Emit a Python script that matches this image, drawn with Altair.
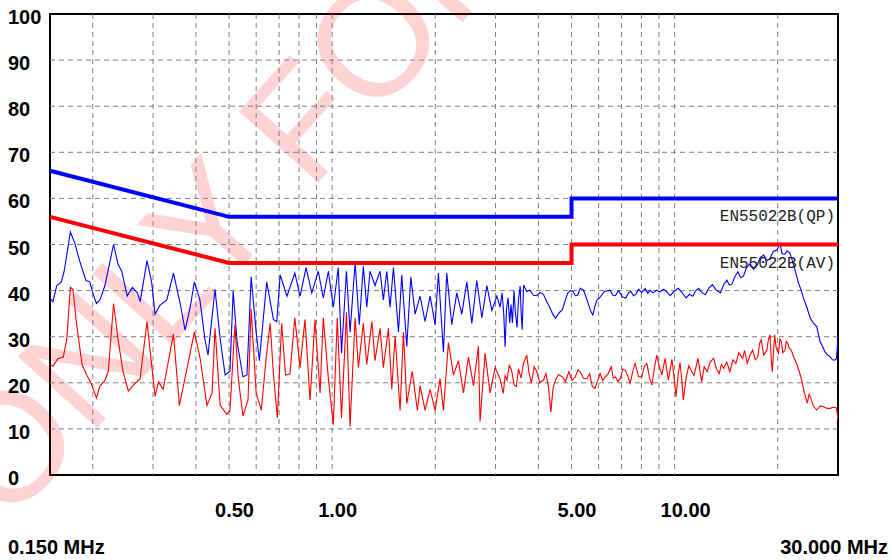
import altair as alt
import pandas as pd

# ---------------- data ----------------
blue_f = [0.150, 0.153, 0.157, 0.162, 0.165, 0.172, 0.177, 0.183, 0.191, 0.196,
          0.200, 0.205, 0.210, 0.217, 0.230, 0.237, 0.243, 0.252, 0.261, 0.270,
          0.275, 0.288, 0.297, 0.304, 0.314, 0.329, 0.344, 0.360, 0.372, 0.385,
          0.396, 0.411, 0.425, 0.434, 0.455, 0.471, 0.487, 0.503, 0.514, 0.528,
          0.549, 0.564, 0.580, 0.600, 0.613, 0.644, 0.674, 0.689, 0.705, 0.738,
          0.778, 0.806, 0.839, 0.872, 0.911, 0.942, 0.975, 1.008, 1.042, 1.065,
          1.101, 1.128, 1.167, 1.200, 1.233, 1.262, 1.290, 1.334, 1.380, 1.411,
          1.444, 1.476, 1.510, 1.562, 1.597, 1.652, 1.697, 1.747, 1.806, 1.868,
          1.932, 1.998, 2.043, 2.113, 2.161, 2.235, 2.312, 2.391, 2.473, 2.558,
          2.645, 2.736, 2.830, 2.927, 3.027, 3.093, 3.135, 3.170, 3.199, 3.230,
          3.264, 3.300, 3.330, 3.360, 3.398, 3.430, 3.467, 3.500, 3.540, 3.565,
          3.588, 3.624, 3.70, 3.78, 3.87, 3.96, 4.05, 4.14, 4.22, 4.31,
          4.40, 4.49, 4.60, 4.70, 4.78, 4.87, 4.95, 5.05, 5.13, 5.21,
          5.30, 5.42, 5.52, 5.61, 5.69, 5.77, 5.85, 5.93, 6.06, 6.24,
          6.48, 6.60, 6.72, 6.85, 6.94, 7.05, 7.20, 7.33, 7.46, 7.58,
          7.70, 7.85, 8.00, 8.20, 8.35, 8.48, 8.65, 8.87, 9.05, 9.28,
          9.45, 9.70, 9.95, 10.25, 10.5, 10.8, 11.05, 11.3, 11.5, 11.75,
          12.0, 12.3, 12.6, 12.9, 13.2, 13.6, 13.9, 14.2, 14.45, 14.7,
          15.0, 15.3, 15.6, 15.9, 16.2, 16.6, 17.0, 17.4, 17.8, 18.2,
          18.6, 19.0, 19.4, 19.9, 20.3, 20.6, 20.99, 21.3, 21.7, 22.2,
          22.6, 23.0, 23.4, 23.8, 24.3, 24.9, 25.4, 26.0, 26.6, 27.0,
          27.5, 28.0, 28.4, 28.9, 29.4, 29.7, 29.85, 30.0]
blue_db = [38.4, 37.6, 41.1, 41.9, 44.2, 52.7, 50.4, 46.5, 42.2, 41.9,
           39.5, 37.2, 38.0, 41.1, 50.0, 45.7, 44.2, 38.8, 40.7, 39.5,
           37.6, 46.5, 41.9, 34.9, 36.8, 38.0, 43.8, 37.2, 31.4, 36.4,
           41.9, 38.0, 29.5, 26.0, 40.3, 29.5, 21.7, 22.5, 39.9, 28.7,
           21.3, 21.7, 43.0, 31.0, 24.8, 41.9, 33.7, 33.3, 43.4, 38.8,
           43.8, 38.8, 45.0, 39.5, 44.2, 38.4, 44.2, 36.4, 45.0, 26.4,
           44.2, 31.0, 46.1, 32.6, 45.3, 36.4, 44.2, 41.1, 44.2, 38.0,
           44.2, 36.4, 45.0, 31.0, 43.4, 27.9, 43.0, 34.9, 38.8, 33.3,
           38.8, 32.6, 43.8, 26.7, 43.8, 32.6, 39.5, 34.9, 41.9, 32.9,
           42.2, 34.1, 41.1, 35.7, 38.8, 36.4, 39.5, 35.0, 27.8, 36.0,
           38.5, 33.0, 37.0, 33.0, 40.0, 35.0, 32.0, 38.0, 41.0, 35.0,
           31.5, 41.2, 39.8, 40.1, 39.0, 38.9, 39.6, 39.2, 37.8, 36.5,
           35.0, 34.0, 35.2, 35.8, 37.6, 39.4, 40.0, 39.8, 38.9, 39.0,
           40.5, 40.1, 38.5, 36.9, 35.5, 34.7, 36.5, 37.9, 38.6, 39.8,
           40.1, 39.0, 38.9, 40.0, 39.4, 38.6, 38.4, 39.5, 39.8, 38.9,
           39.2, 40.3, 39.6, 40.4, 39.4, 40.1, 39.5, 40.1, 39.7, 40.3,
           39.9, 38.9, 39.8, 40.5, 39.6, 38.4, 39.2, 38.8, 39.9, 40.5,
           39.6, 39.1, 40.6, 41.3, 40.2, 39.5, 41.2, 42.3, 41.2, 41.4,
           43.0, 44.1, 42.8, 43.2, 44.9, 45.9, 44.6, 45.4, 47.2, 47.7,
           46.5, 47.0, 48.5, 48.8, 50.2, 48.0, 47.9, 48.6, 48.2, 45.9,
           43.8, 41.6, 40.2, 38.3, 36.5, 34.0, 33.0, 32.2, 28.9, 28.0,
           26.7, 26.0, 25.7, 25.0, 24.9, 25.3, 27.5, 30.0]

red_f = [0.150, 0.153, 0.158, 0.164, 0.168, 0.172, 0.175, 0.179, 0.186, 0.192,
         0.198, 0.205, 0.210, 0.217, 0.222, 0.230, 0.237, 0.245, 0.254, 0.262,
         0.275, 0.288, 0.297, 0.304, 0.311, 0.321, 0.344, 0.352, 0.358, 0.368,
         0.396, 0.411, 0.431, 0.446, 0.455, 0.471, 0.492, 0.503, 0.520, 0.532,
         0.549, 0.568, 0.580, 0.600, 0.621, 0.642, 0.659, 0.674, 0.692, 0.712,
         0.731, 0.753, 0.778, 0.806, 0.833, 0.862, 0.891, 0.922, 0.942, 0.975,
         1.008, 1.035, 1.065, 1.101, 1.128, 1.167, 1.193, 1.233, 1.262, 1.306,
         1.334, 1.380, 1.411, 1.460, 1.493, 1.527, 1.579, 1.615, 1.652, 1.713,
         1.774, 1.806, 1.868, 1.932, 1.998, 2.066, 2.113, 2.185, 2.260, 2.338,
         2.418, 2.500, 2.586, 2.674, 2.703, 2.796, 2.892, 2.991, 3.093, 3.16,
         3.20, 3.24, 3.29, 3.34, 3.40, 3.45, 3.50, 3.56, 3.62, 3.70,
         3.76, 3.82, 3.89, 3.96, 4.04, 4.14, 4.21, 4.28, 4.35, 4.42,
         4.49, 4.58, 4.70, 4.80, 4.91, 5.02, 5.13, 5.22, 5.30, 5.42,
         5.55, 5.65, 5.75, 5.85, 5.97, 6.06, 6.17, 6.27, 6.40, 6.53,
         6.62, 6.72, 6.83, 6.95, 7.06, 7.18, 7.30, 7.41, 7.55, 7.67,
         7.85, 8.02, 8.15, 8.30, 8.45, 8.58, 8.72, 8.87, 9.02, 9.18,
         9.38, 9.59, 9.82, 9.95, 10.1, 10.25, 10.37, 10.5, 10.6, 10.8,
         11.0, 11.2, 11.4, 11.7, 12.0, 12.2, 12.45, 12.7, 13.0, 13.25,
         13.5, 13.7, 13.9, 14.2, 14.5, 14.8, 15.1, 15.4, 15.8, 16.0,
         16.3, 16.6, 16.9, 17.2, 17.5, 17.7, 17.9, 18.2, 18.6, 18.8,
         19.0, 19.15, 19.3, 19.45, 19.6, 19.8, 20.1, 20.3, 20.5, 20.7,
         21.0, 21.2, 21.4, 21.6, 21.9, 22.3, 22.7, 23.1, 23.5, 23.9,
         24.4, 24.7, 24.9, 25.4, 26.0, 26.6, 27.2, 27.8, 28.4, 29.0,
         29.7, 30.0]
red_db = [24.0, 23.6, 25.2, 25.6, 29.5, 40.7, 40.3, 33.3, 24.0, 21.7,
          19.8, 16.7, 19.4, 20.5, 22.5, 37.2, 29.5, 22.5, 18.2, 19.4,
          20.9, 33.3, 24.0, 17.1, 20.2, 18.6, 30.6, 21.7, 15.1, 19.4,
          31.0, 25.6, 15.1, 17.8, 31.8, 15.1, 13.2, 13.9, 32.6, 20.9,
          12.8, 16.3, 36.0, 17.8, 14.0, 25.6, 32.9, 21.7, 12.4, 32.9,
          21.7, 21.9, 34.1, 23.3, 33.7, 16.3, 33.7, 17.8, 34.1, 20.9,
          10.9, 34.1, 12.4, 35.3, 10.5, 34.1, 23.3, 32.9, 24.0, 33.3,
          24.8, 31.8, 23.3, 31.8, 18.6, 30.2, 14.0, 31.0, 15.5, 22.5,
          14.0, 19.4, 14.0, 18.6, 14.0, 20.9, 14.0, 28.7, 21.7, 24.8,
          17.8, 25.6, 19.4, 27.9, 11.6, 26.4, 17.8, 23.3, 20.9, 17.7,
          21.5, 20.6, 23.8, 22.8, 19.5, 19.2, 23.0, 21.0, 24.2, 26.0,
          22.0, 19.9, 23.5, 22.4, 20.0, 20.6, 22.0, 19.2, 13.7, 19.0,
          20.6, 21.8, 21.3, 20.2, 22.4, 20.5, 21.3, 22.8, 22.4, 21.0,
          20.9, 22.0, 19.2, 18.8, 20.6, 22.0, 20.5, 21.3, 22.0, 23.5,
          21.0, 21.3, 20.3, 21.0, 23.0, 22.7, 21.5, 19.9, 22.5, 24.2,
          21.3, 21.3, 23.5, 24.2, 21.0, 19.5, 23.0, 26.0, 23.5, 21.7,
          25.3, 20.6, 25.1, 21.5, 17.0, 22.0, 24.4, 20.5, 16.3, 21.0,
          23.7, 22.5, 21.6, 25.3, 20.2, 23.5, 22.4, 24.5, 25.3, 23.0,
          22.0, 24.0, 23.1, 24.5, 22.4, 25.0, 24.2, 26.5, 25.3, 27.0,
          24.2, 26.0, 27.1, 25.0, 25.6, 28.5, 29.3, 26.0, 27.1, 29.5,
          30.4, 25.0, 22.4, 27.0, 30.4, 27.5, 26.4, 29.5, 28.9, 26.5,
          27.1, 29.0, 28.6, 27.5, 27.1, 25.5, 24.2, 22.5, 20.6, 18.0,
          15.6, 17.5, 17.0, 15.0, 14.1, 15.0, 14.8, 14.5, 14.4, 14.7,
          14.6, 11.9]

limit_f = [0.15, 0.5, 5.0, 5.0, 30.0]
qp_limit_db = [66, 56, 56, 60, 60]
av_limit_db = [56, 46, 46, 50, 50]
limit_names = ["EN55022B(QP)", "EN55022B(AV)"]
limit_label_db = [55, 45]

y_ticks = list(range(0, 101, 10))
x_grid = [0.2, 0.3, 0.4, 0.5, 0.6, 0.7, 0.8, 0.9, 1, 2, 3, 4, 5, 6, 7, 8, 9, 10, 20]
x_label_vals = [0.5, 1, 5, 10]
x_label_txt = ["0.50", "1.00", "5.00", "10.00"]
corner_f = [0.15, 30.0]
corner_txt = ["0.150 MHz", "30.000 MHz"]
watermark = "ONLY FOR REFERENCE"

# ---------------- tables ----------------
trace_df = pd.DataFrame({
    "f": blue_f + red_f,
    "db": blue_db + red_db,
    "s": ["QP"] * len(blue_f) + ["AV"] * len(red_f),
    "i": list(range(len(blue_f))) + list(range(len(red_f))),
})
lim_df = pd.DataFrame({
    "f": limit_f + limit_f,
    "db": qp_limit_db + av_limit_db,
    "s": ["QP"] * len(limit_f) + ["AV"] * len(limit_f),
    "i": list(range(len(limit_f))) * 2,
})
lab_df = pd.DataFrame({"f": [30.0, 30.0], "db": limit_label_db, "t": limit_names})
xlab_df = pd.DataFrame({"f": x_label_vals, "t": x_label_txt})
ylab_df = pd.DataFrame({"db": y_ticks, "t": [str(v) for v in y_ticks]})
xgrid_df = pd.DataFrame({"f": x_grid})
ygrid_df = pd.DataFrame({"db": y_ticks[1:-1]})
wm_df = pd.DataFrame({"t": [watermark]})

LBL = "Liberation Sans, Arial, sans-serif"
LBL_SIZE = 20

xscale = alt.Scale(type="log", domain=[0.15, 30], nice=False)
yscale = alt.Scale(domain=[0, 100], nice=False)
cscale = alt.Scale(domain=["QP", "AV"], range=["#0000ff", "#ff0000"])

X = lambda: alt.X("f:Q", scale=xscale, axis=None)
Y = lambda: alt.Y("db:Q", scale=yscale, axis=None)

wm = alt.Chart(wm_df).mark_text(
    angle=312, align="left", baseline="alphabetic", fontSize=155,
    font="Liberation Sans", color="#ff0000", opacity=0.17
).encode(x=alt.value(-42), y=alt.value(513), text="t:N")

xgrid = alt.Chart(xgrid_df).mark_rule(
    color="#7f7f7f", strokeWidth=1, strokeDash=[5, 4]
).encode(x=X(), y=alt.value(0), y2=alt.value(461))

ygrid = alt.Chart(ygrid_df).mark_rule(
    color="#7f7f7f", strokeWidth=1, strokeDash=[5, 4]
).encode(y=Y(), x=alt.value(0), x2=alt.value(788))

traces = alt.Chart(trace_df).mark_line(strokeWidth=1.1, clip=True).encode(
    x=X(), y=Y(),
    color=alt.Color("s:N", scale=cscale, legend=None),
    detail="s:N",
    order="i:Q",
)

limits = alt.Chart(lim_df).mark_line(strokeWidth=4).encode(
    x=X(), y=Y(),
    color=alt.Color("s:N", scale=cscale, legend=None),
    detail="s:N",
    order="i:Q",
)

labels = alt.Chart(lab_df).mark_text(
    align="right", baseline="alphabetic", dx=-3, font="Liberation Mono",
    fontSize=16, color="#222222"
).encode(x=X(), y=Y(), text="t:N")

xlabels = alt.Chart(xlab_df).mark_text(
    align="left", baseline="alphabetic", dx=-14, font=LBL, fontSize=LBL_SIZE,
    fontWeight="bold", color="#000000"
).encode(x=X(), y=alt.value(503), text="t:N")

ylabels = alt.Chart(ylab_df).mark_text(
    align="left", baseline="middle", dy=4, font=LBL, fontSize=LBL_SIZE,
    fontWeight="bold", color="#000000"
).encode(x=alt.value(-42), y=Y(), text="t:N")

corner_left = alt.Chart(pd.DataFrame({"f": corner_f[:1], "t": corner_txt[:1]})).mark_text(
    align="left", baseline="alphabetic", dx=-42, font=LBL, fontSize=LBL_SIZE,
    fontWeight="bold", color="#000000"
).encode(x=X(), y=alt.value(540), text="t:N")

corner_right = alt.Chart(pd.DataFrame({"f": corner_f[1:], "t": corner_txt[1:]})).mark_text(
    align="right", baseline="alphabetic", dx=50, font=LBL, fontSize=LBL_SIZE,
    fontWeight="bold", color="#000000"
).encode(x=X(), y=alt.value(540), text="t:N")

chart = alt.layer(wm, xgrid, ygrid, traces, limits, labels, xlabels, ylabels,
                  corner_left, corner_right).properties(
    width=788, height=461,
    autosize=alt.AutoSizeParams(type="none"),
    padding={"left": 50, "top": 14, "right": 54, "bottom": 85},
    background="white",
).configure_view(stroke="#000000", strokeWidth=2)

chart.save("out.html", embed_options={"renderer": "svg", "actions": False})
